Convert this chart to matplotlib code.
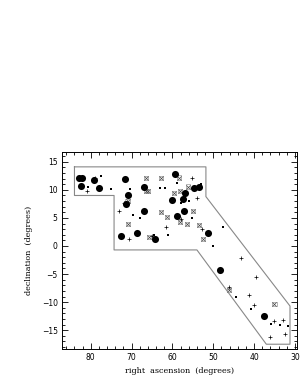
import matplotlib
matplotlib.use("Agg")
import matplotlib.pyplot as plt
from matplotlib.ticker import MultipleLocator

# survey boundary (RA, Dec)
poly_ra = [84.0, 51.8, 51.8, 31.2, 31.2, 37.0, 54.0, 74.3, 74.3, 84.0, 84.0]
poly_dec = [14.1, 14.1, 8.8, -10.7, -17.5, -17.5, -0.7, -0.7, 9.0, 9.0, 14.1]

# large filled circles
big_ra = [83.0, 82.2, 82.4, 79.2, 78.0, 71.5, 70.8, 71.4, 67.0, 67.0, 72.7, 68.8,
          64.3, 59.4, 60.2, 57.3, 57.0, 54.8, 53.4, 58.8, 57.2, 51.2, 48.4, 37.6]
big_dec = [12.2, 12.2, 10.7, 11.7, 10.3, 12.0, 9.0, 7.4, 10.5, 6.2, 1.8, 2.4,
           1.2, 12.9, 8.2, 8.4, 9.5, 10.3, 10.5, 5.4, 6.2, 2.4, -4.3, -12.4]

# boxed crosses
box_ra = [66.5, 62.7, 58.3, 66.5, 66.0, 59.6, 58.1, 56.1, 62.9, 61.3, 71.0, 70.8,
          65.7, 58.2, 56.4, 55.0, 53.4, 52.5, 46.2, 35.0]
box_dec = [12.1, 12.1, 12.2, 9.8, 9.8, 9.4, 9.8, 10.6, 6.1, 5.2, 8.0, 3.9,
           1.6, 4.3, 3.9, 6.3, 3.8, 1.2, -7.9, -10.4]

# plus signs
plus_ra = [81.0, 78.9, 73.0, 70.7, 65.0, 61.6, 55.1, 54.1, 52.8, 71.8, 57.8,
           43.1, 46.1, 39.5, 41.2, 40.0, 35.1, 32.8, 32.4, 36.1]
plus_dec = [9.8, 12.2, 6.2, 1.3, 1.7, 3.3, 12.2, 8.6, 3.1, 7.6, 4.8,
            -2.1, -7.3, -5.5, -8.8, -10.5, -13.3, -13.1, -15.6, -16.3]

# small dots
dot_ra = [75.0, 50.0, 47.7, 40.8, 35.8, 33.6, 31.6, 44.5, 68.0, 69.6, 63.0, 61.8,
          70.3, 59.0, 55.3, 80.7, 77.5, 61.0, 56.0, 53.0, 64.6, 58.0]
dot_dec = [10.1, 0.0, 3.3, -11.3, -13.9, -14.0, -14.2, -9.0, 5.0, 5.6, 10.3, 10.3,
           10.1, 11.3, 4.9, 10.6, 12.4, 2.0, 8.1, 11.0, 2.0, 7.7]

fig = plt.figure(figsize=(3.03, 3.92), dpi=100)
ax = fig.add_axes([0.204, 0.109, 0.776, 0.504])

ax.plot(poly_ra, poly_dec, color="#888888", lw=0.8)
ax.scatter(dot_ra, dot_dec, s=0.8, c="black", marker="s", linewidths=0)
ax.scatter(box_ra, box_dec, s=9, facecolors="none", edgecolors="#aaaaaa",
           marker="s", linewidths=0.6)
ax.scatter(box_ra, box_dec, s=9, c="#444444", marker="x", linewidths=0.5)
ax.scatter(plus_ra, plus_dec, s=12, c="black", marker="+", linewidths=0.5)
ax.scatter(big_ra, big_dec, s=26, c="black", marker="o", linewidths=0)

ax.set_xlim(87.1, 29.5)
ax.set_ylim(-18.4, 16.8)
ax.xaxis.set_major_locator(MultipleLocator(10))
ax.xaxis.set_minor_locator(MultipleLocator(2))
ax.yaxis.set_major_locator(MultipleLocator(5))
ax.yaxis.set_minor_locator(MultipleLocator(1))
ax.tick_params(which="both", direction="in", top=True, right=True,
               labelsize=5.5, pad=3, width=0.6)
ax.tick_params(which="major", length=4)
ax.tick_params(which="minor", length=2)
for s in ax.spines.values():
    s.set_linewidth(0.7)
ax.set_xlabel("right  ascension  (degrees)", fontsize=5.8, family="DejaVu Serif",
              labelpad=3)
ax.set_ylabel("declination  (degrees)", fontsize=5.8, family="DejaVu Serif",
              labelpad=6)

fig.savefig("out.png", dpi=100)
